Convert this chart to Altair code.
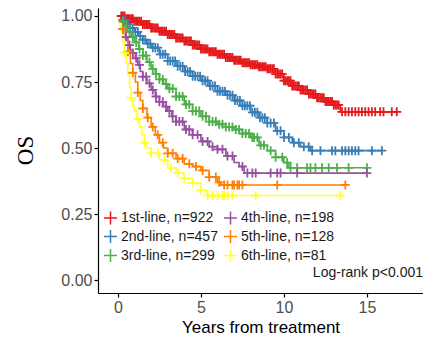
import altair as alt
import pandas as pd

series = ["1st-line, n=922", "2nd-line, n=457", "3rd-line, n=299",
          "4th-line, n=198", "5th-line, n=128", "6th-line, n=81"]
colors = ["#E41A1C", "#377EB8", "#4DAF4A", "#984EA3", "#FF7F00", "#FFFF33"]

# Kaplan-Meier step points (years, survival)
red_t = [0, 0.5, 1, 1.5, 2, 2.5, 3, 3.5, 4, 4.5, 5, 5.5, 6, 6.5, 7, 7.5, 8, 8.5, 9, 9.5, 10, 10.5, 11, 11.5, 12, 12.5, 13, 13.4]
red_s = [1.0, 0.99, 0.98, 0.968, 0.955, 0.942, 0.93, 0.917, 0.905, 0.89, 0.875, 0.865, 0.855, 0.843, 0.832, 0.823, 0.815, 0.808, 0.80, 0.78, 0.755, 0.735, 0.72, 0.705, 0.69, 0.676, 0.663, 0.637]
blue_t = [0, 0.25, 0.5, 0.75, 1, 1.25, 1.5, 1.75, 2, 2.5, 3, 3.5, 4, 4.5, 5, 5.5, 6, 6.5, 7, 7.5, 8, 8.5, 9, 9.5, 10, 10.5, 11, 11.6]
blue_s = [1.0, 0.985, 0.97, 0.955, 0.94, 0.925, 0.91, 0.895, 0.88, 0.855, 0.83, 0.81, 0.79, 0.772, 0.755, 0.735, 0.715, 0.70, 0.68, 0.66, 0.635, 0.615, 0.595, 0.565, 0.54, 0.52, 0.505, 0.49]
green_t = [0, 0.2, 0.4, 0.6, 0.8, 1, 1.25, 1.5, 1.75, 2, 2.25, 2.5, 2.75, 3, 3.5, 4, 4.5, 5, 5.5, 6, 6.5, 7, 7.5, 8, 8.5, 9, 9.5, 10, 10.3]
green_s = [1.0, 0.98, 0.96, 0.94, 0.92, 0.9, 0.875, 0.85, 0.825, 0.8, 0.78, 0.76, 0.742, 0.725, 0.695, 0.665, 0.64, 0.62, 0.60, 0.59, 0.58, 0.57, 0.555, 0.54, 0.51, 0.49, 0.465, 0.445, 0.425]
purple_t = [0, 0.15, 0.3, 0.45, 0.6, 0.75, 0.9, 1.05, 1.2, 1.35, 1.5, 1.75, 2, 2.25, 2.5, 2.75, 3, 3.25, 3.5, 4, 4.5, 5, 5.5, 6, 6.5, 7, 7.3, 7.6]
purple_s = [1.0, 0.975, 0.95, 0.92, 0.89, 0.87, 0.86, 0.84, 0.815, 0.79, 0.77, 0.745, 0.72, 0.695, 0.675, 0.657, 0.64, 0.62, 0.60, 0.57, 0.55, 0.525, 0.505, 0.495, 0.47, 0.445, 0.43, 0.405]
orange_t = [0, 0.15, 0.3, 0.45, 0.6, 0.75, 0.9, 1.05, 1.2, 1.35, 1.5, 1.75, 2, 2.25, 2.5, 2.75, 3, 3.5, 4, 4.5, 5, 5.5, 6, 6.2]
orange_s = [1.0, 0.975, 0.95, 0.91, 0.865, 0.82, 0.785, 0.75, 0.71, 0.68, 0.65, 0.615, 0.58, 0.55, 0.52, 0.50, 0.48, 0.46, 0.44, 0.43, 0.415, 0.39, 0.37, 0.36]
yellow_t = [0, 0.1, 0.2, 0.3, 0.4, 0.5, 0.6, 0.7, 0.8, 0.9, 1.0, 1.15, 1.3, 1.45, 1.6, 1.75, 2, 2.5, 3, 3.5, 4, 4.5, 5, 5.4]
yellow_s = [1.0, 0.97, 0.94, 0.90, 0.86, 0.82, 0.775, 0.73, 0.69, 0.66, 0.64, 0.61, 0.58, 0.55, 0.52, 0.50, 0.48, 0.455, 0.425, 0.405, 0.385, 0.367, 0.34, 0.32]

# censoring times (years)
red_c = [0.2, 0.3, 0.4, 0.5, 0.6, 0.7, 0.8, 0.9, 1.0, 1.1, 1.2, 1.3, 1.4, 1.5, 1.6, 1.7, 1.8, 1.9,
         2.0, 2.1, 2.2, 2.3, 2.4, 2.5, 2.6, 2.7, 2.8, 2.9, 3.0, 3.1, 3.2, 3.3, 3.4, 3.5, 3.6, 3.7,
         3.8, 3.9, 4.0, 4.1, 4.2, 4.3, 4.4, 4.5, 4.6, 4.7, 4.8, 4.9, 5.0, 5.1, 5.2, 5.3, 5.4, 5.5,
         5.6, 5.7, 5.8, 5.9, 6.0, 6.1, 6.2, 6.3, 6.4, 6.5, 6.6, 6.7, 6.8, 6.9, 7.0, 7.1, 7.2, 7.3,
         7.4, 7.5, 7.6, 7.7, 7.8, 7.9, 8.0, 8.1, 8.2, 8.3, 8.4, 8.5, 8.6, 8.7, 8.8, 8.9, 9.0, 9.1,
         9.2, 9.3, 9.4, 9.5, 9.6, 9.7, 9.8, 9.9, 10.0, 10.1, 10.2, 10.3, 10.4, 10.5, 10.6, 10.7,
         10.8, 10.9, 11.0, 11.1, 11.2, 11.3, 11.4, 11.5, 11.6, 11.7, 11.8, 11.9, 12.0, 12.1, 12.2,
         12.3, 12.4, 12.5, 12.6, 12.7, 12.8, 12.9, 13.0, 13.1, 13.2, 13.3, 13.5, 13.7, 13.9, 14.1,
         14.3, 14.5, 14.7, 14.9, 15.1, 15.3, 15.5, 15.8, 16.0, 16.5, 16.8]
blue_c = [0.3, 0.45, 0.6, 0.75, 0.9, 1.05, 1.2, 1.35, 1.5, 1.65, 1.8, 1.95, 2.1, 2.25, 2.4, 2.55,
          2.7, 2.85, 3.0, 3.15, 3.3, 3.45, 3.6, 3.75, 3.9, 4.05, 4.2, 4.35, 4.5, 4.65, 4.8, 4.95,
          5.1, 5.25, 5.4, 5.55, 5.7, 5.85, 6.0, 6.15, 6.3, 6.45, 6.6, 6.75, 6.9, 7.05, 7.2, 7.35,
          7.5, 7.65, 7.8, 7.95, 8.1, 8.25, 8.4, 8.55, 8.7, 8.85, 9.0, 9.2, 9.4, 9.6, 9.8, 10.0,
          10.3, 10.6, 10.9, 11.2, 11.5, 11.7, 12.2, 12.9, 13.1, 13.5, 13.7, 13.9, 14.1, 14.3, 14.5,
          15.3, 15.9]
green_c = [0.3, 0.5, 0.7, 0.9, 1.1, 1.3, 1.5, 1.7, 1.9, 2.1, 2.3, 2.5, 2.7, 2.9, 3.1, 3.3, 3.5,
           3.7, 3.9, 4.1, 4.3, 4.5, 4.7, 4.9, 5.1, 5.3, 5.5, 5.7, 5.9, 6.1, 6.3, 6.5, 6.7, 6.9, 7.1,
           7.3, 7.5, 7.7, 7.9, 8.1, 8.2, 8.4, 8.6, 8.8, 9.2, 9.5, 9.9, 10.2, 10.4, 10.8, 11.4, 11.6,
           11.9, 12.3, 12.7, 13.2, 13.9, 15.0]
purple_c = [0.3, 0.5, 0.7, 0.9, 1.1, 1.3, 1.5, 1.7, 1.9, 2.1, 2.3, 2.5, 2.7, 2.9, 3.1, 3.3, 3.5,
            3.7, 3.9, 4.1, 4.3, 4.5, 4.8, 5.1, 5.4, 5.7, 6.0, 6.3, 6.6, 6.9, 7.5, 7.8, 8.1, 8.3,
            9.2, 9.6, 9.8, 10.8, 15.0]
orange_c = [0.3, 0.6, 0.9, 1.2, 1.5, 1.8, 2.1, 2.4, 2.7, 3.0, 3.3, 3.6, 3.9, 4.3, 4.7, 5.1, 5.5,
            5.9, 6.1, 6.4, 6.6, 6.9, 7.0, 7.2, 7.3, 7.5, 9.6, 13.7]
yellow_c = [0.4, 0.8, 1.2, 1.6, 2.0, 2.4, 2.8, 3.2, 3.6, 4.0, 4.5, 5.0, 5.4, 5.7, 6.0, 6.3, 6.4,
            6.6, 6.9, 8.3, 13.4]

curves = [(red_t, red_s, red_c), (blue_t, blue_s, blue_c), (green_t, green_s, green_c),
          (purple_t, purple_s, purple_c), (orange_t, orange_s, orange_c), (yellow_t, yellow_s, yellow_c)]


def step_value(ts, ss, c):
    v = ss[0]
    for t, s in zip(ts, ss):
        if t <= c:
            v = s
    return v


line_rows, cens_rows = [], []
for name, (ts, ss, cs) in zip(series, curves):
    for t, s in zip(ts, ss):
        line_rows.append({"t": t, "s": s, "grp": name})
    line_rows.append({"t": max(cs), "s": ss[-1], "grp": name})
    for c in cs:
        cens_rows.append({"t": c, "s": step_value(ts, ss, c), "grp": name})

lines_df = pd.DataFrame(line_rows)
cens_df = pd.DataFrame(cens_rows)

FONT = "Liberation Sans"
PLUS = "M-1,0H1M0,-1V1"

xs = alt.Scale(domain=[-1.2, 18.38], nice=False, zero=False)
ys = alt.Scale(domain=[-0.0492, 1.0303], nice=False, zero=False)
cs_scale = alt.Scale(domain=series, range=colors)

color = alt.Color("grp:N", scale=cs_scale, sort=series,
                  legend=alt.Legend(title=None, orient="none", legendX=5, legendY=202,
                                    columns=2, symbolType=PLUS, symbolSize=170,
                                    symbolStrokeWidth=1.5, labelFont=FONT, labelFontSize=14,
                                    labelColor="#1a1a1a", rowPadding=-2, columnPadding=2,
                                    labelOffset=3))

xaxis = alt.Axis(values=[0, 5, 10, 15], title="Years from treatment", grid=False,
                 labelFont=FONT, labelFontSize=16, labelColor="#4d4d4d", labelPadding=2,
                 tickColor="black", tickSize=4, domainColor="black", domainWidth=1.2, tickWidth=1.2,
                 titleFont=FONT, titleFontSize=17, titleFontWeight="normal", titleColor="black",
                 titlePadding=4)
yaxis = alt.Axis(values=[0, 0.25, 0.5, 0.75, 1.0], format=".2f", title="OS", grid=False,
                 labelFont=FONT, labelFontSize=16, labelColor="#4d4d4d", labelPadding=2,
                 tickColor="black", tickSize=4, domainColor="black", domainWidth=1.2, tickWidth=1.2,
                 titleFont="Liberation Serif", titleFontSize=23, titleFontWeight="normal",
                 titleColor="black", titleX=-73, titleY=142, titleBaseline="middle",
                 titleAlign="center", titleAngle=270)

lines = alt.Chart(lines_df).mark_line(interpolate="step-after", strokeWidth=1.6).encode(
    x=alt.X("t:Q", scale=xs, axis=xaxis),
    y=alt.Y("s:Q", scale=ys, axis=yaxis),
    color=color,
    detail="grp:N",
)

marks = alt.Chart(cens_df).mark_point(shape=PLUS, filled=False, size=81, strokeWidth=1.8,
                                      opacity=1).encode(
    x=alt.X("t:Q", scale=xs),
    y=alt.Y("s:Q", scale=ys),
    color=alt.Color("grp:N", scale=cs_scale, legend=None),
)

note_df = pd.DataFrame({"t": [18.38], "s": [0.027], "label": ["Log-rank p<0.001"]})
note = alt.Chart(note_df).mark_text(align="right", baseline="middle", font=FONT, fontSize=14,
                                    color="#1a1a1a").encode(
    x=alt.X("t:Q", scale=xs), y=alt.Y("s:Q", scale=ys), text="label:N")

chart = alt.layer(lines, marks, note).properties(
    width=325, height=285,
    autosize=alt.AutoSizeParams(type="none"),
    padding={"left": 90, "top": 0, "right": 0, "bottom": 46},
    background="white",
).configure_view(stroke=None)

chart.save("out.html", embed_options={"renderer": "svg", "actions": False})
